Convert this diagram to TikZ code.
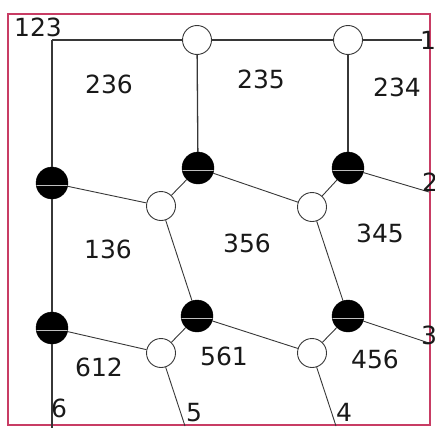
\documentclass[tikz,border=0pt]{standalone}
\usepackage{fontspec}
\setmainfont{DejaVu Sans}
\definecolor{framepink}{RGB}{200,60,100}
\definecolor{bondgray}{RGB}{55,55,55}
\tikzset{
  wsite/.style={circle, draw=bondgray, line width=0.9pt, fill=white, minimum size=29pt, inner sep=0pt},
  bsite/.style={circle, draw=black, fill=black, minimum size=32pt, inner sep=0pt,
    path picture={\draw[gray!50, line width=1pt] ([yshift=-2pt]path picture bounding box.west) -- ([yshift=-2pt]path picture bounding box.east);}},
  bond/.style={bondgray, line width=0.9pt},
  leg/.style={bondgray, line width=1.3pt},
  lbl/.style={font=\fontsize{25}{30}\selectfont, text=black!90, inner sep=0pt}
}

\begin{document}
\begin{tikzpicture}[x=1pt,y=-1pt]
\useasboundingbox (0,0) rectangle (435,428);
\draw[framepink, line width=1.6pt] (8,14) rectangle (430,425);
\node[wsite] (w1) at (197,40) {};
\node[wsite] (w2) at (348,40) {};
\node[bsite] (b1) at (52,183) {};
\node[bsite] (b2) at (198,168) {};
\node[bsite] (b3) at (348,168) {};
\node[wsite] (w3) at (161,206) {};
\node[wsite] (w4) at (312,207) {};
\node[bsite] (b4) at (52,328) {};
\node[bsite] (b5) at (197,316) {};
\node[bsite] (b6) at (348,316) {};
\node[wsite] (w5) at (161,353) {};
\node[wsite] (w6) at (312,353) {};
\coordinate (c123) at (52,40);
\coordinate (c1) at (422,40);
\coordinate (c2) at (429,192);
\coordinate (c3) at (429,343);
\coordinate (c4) at (336,426);
\coordinate (c5) at (185,426);
\coordinate (c6) at (52,428);
\draw[leg] (c123) -- (w1) -- (w2) -- (c1);
\draw[leg] (c123) -- (b1) -- (b4) -- (c6);
\draw[leg] (w1) -- (b2);
\draw[leg] (w2) -- (b3);
\draw[bond] (b1) -- (w3);
\draw[bond] (b2) -- (w3);
\draw[bond] (w3) -- (b5);
\draw[bond] (b2) -- (w4);
\draw[bond] (b3) -- (w4);
\draw[bond] (b3) -- (c2);
\draw[bond] (w4) -- (b6);
\draw[bond] (b4) -- (w5);
\draw[bond] (b5) -- (w5);
\draw[bond] (b5) -- (w6);
\draw[bond] (b6) -- (w6);
\draw[bond] (b6) -- (c3);
\draw[bond] (w5) -- (c5);
\draw[bond] (w6) -- (c4);
\node[lbl] (t123) at (38,27) {123};
\node[lbl] (t1) at (428,40) {1};
\node[lbl] (t2) at (430,182) {2};
\node[lbl] (t3) at (429,335) {3};
\node[lbl] (t4) at (344,412) {4};
\node[lbl] (t5) at (194,413) {5};
\node[lbl] (t6) at (59,408) {6};
\node[lbl] (f236) at (109,84) {236};
\node[lbl] (f235) at (261,79) {235};
\node[lbl] (f234) at (397,87) {234};
\node[lbl] (f136) at (108,249) {136};
\node[lbl] (f356) at (247,243) {356};
\node[lbl] (f345) at (380,233) {345};
\node[lbl] (f612) at (99,367) {612};
\node[lbl] (f561) at (224,356) {561};
\node[lbl] (f456) at (375,359) {456};
\end{tikzpicture}
\end{document}
